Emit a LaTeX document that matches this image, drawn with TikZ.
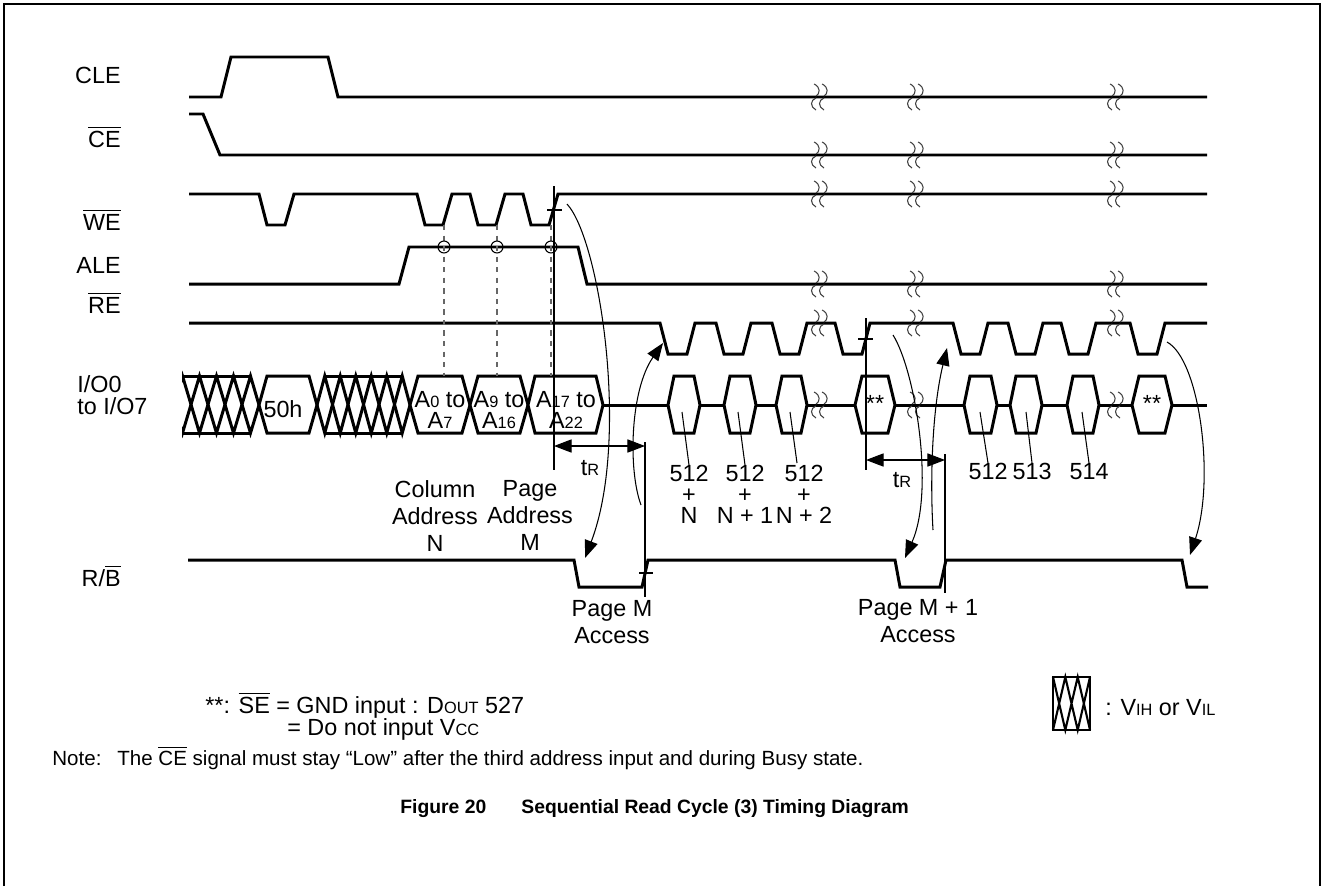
\documentclass[tikz,border=0pt]{standalone}
\usepackage{fontspec}
\setmainfont{Liberation Sans}
\usepackage{amsmath}
\usetikzlibrary{arrows.meta}

\newcommand\ovl[1]{$\overline{\mbox{#1}}$}
\newcommand\lo[1]{{\fontsize{9.3}{9.3}\selectfont #1}}
\newcommand\hexbox[3]{\draw[sig, fill=white] (#1,405) -- (#1+#3,376) -- (#2-#3,376) -- (#2,405) -- (#2-#3,433) -- (#1+#3,433) -- cycle;}
\newcommand\xhatch[3]{%
  \pgfmathsetmacro\hatchd{(#2-#1)/#3}
  \draw[sig] (#1+\hatchd/2,376) -- (#2-\hatchd/2,376) (#1+\hatchd/2,433) -- (#2-\hatchd/2,433);
  \draw[sig] (#1,405) foreach \k in {1,...,#3} { -- ({#1+(\k-0.5)*\hatchd},{376+57*mod(\k+1,2)}) } -- (#2,405);
  \draw[sig] (#1,405) foreach \k in {1,...,#3} { -- ({#1+(\k-0.5)*\hatchd},{433-57*mod(\k+1,2)}) } -- (#2,405);}
\newcommand\wavebrk[2]{%
  \foreach \a in {#1-4,#1+4} {
    \draw[brkln] (\a-1,#2-13) .. controls (\a+6,#2-10) and (\a+5,#2-3) .. (\a+1,#2-1);
    \draw[brkln] (\a+1,#2+1) .. controls (\a-5,#2+3) and (\a-5,#2+10) .. (\a+1,#2+13);}}

\begin{document}
\begin{tikzpicture}[x=0.02cm, y=-0.02cm, font=\fontsize{13.3}{15.3}\selectfont,
    sig/.style={line width=1.7pt},
    fine/.style={line width=0.6pt},
    brkln/.style={line width=0.6pt, black!75},
    tip/.style={-{Triangle[length=10pt,width=7.5pt]}},
    tips/.style={{Triangle[length=10pt,width=7.5pt]}-{Triangle[length=10pt,width=7.5pt]}},
    lbl/.style={anchor=base east, inner sep=0pt},
    txt/.style={anchor=base west, inner sep=0pt},
    stack/.style={align=center, anchor=north, inner sep=0pt, font=\fontsize{13.3}{11.9}\selectfont},
    addr/.style={align=center, anchor=north, inner sep=0pt},
    inbox/.style={align=center, inner sep=0pt, font=\fontsize{13.3}{11.9}\selectfont}]
    \useasboundingbox (0,0) rectangle (1324,886);
    \draw[line width=1pt] (4,886) -- (4,4) -- (1320,4) -- (1320,886);

    \node[lbl] (cle) at (121,83) {CLE};
    \node[lbl] (ce) at (121,147) {\ovl{CE}};
    \node[lbl] (we) at (121,230) {\ovl{WE}};
    \node[lbl] (ale) at (121,273) {ALE};
    \node[lbl] (re) at (121,313) {\ovl{RE}};
    \node[txt] (io) at (77,392) {I/O0};
    \node[txt] (io7) at (77,414) {to I/O7};
    \node[lbl] (rb) at (121,586) {R/\ovl{B}};

    \draw[sig] (189,97) -- (221,97) -- (231,57) -- (328,57) -- (338,97) -- (1207,97);
    \draw[sig] (189,114) -- (203,114) -- (220,155) -- (1207,155);
    \draw[sig] (189,194) foreach \p in {259,417,470,523} { -- (\p,194) -- (\p+8,225) -- (\p+26,225) -- (\p+35,194)} -- (1207,194);
    \draw[sig] (189,284) -- (399,284) -- (409,247) -- (578,247) -- (587,284) -- (1207,284);
    \draw[sig] (189,323) foreach \p in {660,716,772,835,953,1008,1061,1130} { -- (\p,323) -- (\p+8,354) -- (\p+27,354) -- (\p+35,323)} -- (1207,323);
    \draw[sig] (188,560) -- (574,560) -- (579,587) -- (642,587) -- (648,560) -- (895,560) -- (900,587) -- (940,587) -- (946,560) -- (1182,560) -- (1187,587) -- (1208,587);

    \begin{scope}
        \clip (182,360) rectangle (265,450);
        \xhatch{174}{259}{5}
    \end{scope}
    \hexbox{259}{317}{8}
    \xhatch{317}{410}{6}
    \hexbox{410}{470}{8}
    \hexbox{470}{528}{8}
    \hexbox{528}{603}{7}
    \draw[sig] (603,405) -- (1207,405);
    \foreach \a/\b/\s in {668/700/6, 724/756/6, 776/807/6, 855/895/7, 964/997/6, 1010/1042/6, 1067/1099/6, 1132/1172/7} {\hexbox{\a}{\b}{\s}}
    \node (cmd) at (283,409) {50h};
    \node[inbox] (col) at (440,410) {A\lo{0} to\\A\lo{7}};
    \node[inbox] (pg1) at (499,410) {A\lo{9} to\\A\lo{16}};
    \node[inbox] (pg2) at (566,410) {A\lo{17} to\\A\lo{22}};
    \node[anchor=base] (se1) at (875,411) {**};
    \node[anchor=base] (se2) at (1152,411) {**};

    \foreach \y in {97,155,194,284,323,405} {\foreach \x in {819,915,1115} {\wavebrk{\x}{\y}}}

    \foreach \x in {444,497,551} {
        \draw[fine, dashed, black!60] (\x,225) -- (\x,376);
        \draw[fine] (\x,247) circle[radius=3.4pt];}

    \coordinate (v1) at (554,186);
    \coordinate (v2) at (554,470);
    \coordinate (v3) at (645,442);
    \coordinate (v4) at (645,597);
    \coordinate (v5) at (866,318);
    \coordinate (v6) at (866,470);
    \coordinate (v7) at (945,454);
    \coordinate (v8) at (945,593);
    \draw[fine] (v1) -- (v2);
    \draw[fine] (v3) -- (v4);
    \draw[fine] (v5) -- (v6);
    \draw[fine] (v7) -- (v8);
    \draw[fine] (547,210) -- (562,210);
    \draw[fine] (639,573) -- (653,573);
    \draw[fine] (858,339) -- (873,339);
    \draw[fine, tips] (v1 |- 0,446) -- (v3 |- 0,446);
    \draw[fine, tips] (v5 |- 0,460) -- (v7 |- 0,460);
    \node (tr1) at (590,468) {t\lo{R}};
    \node (tr2) at (902,480) {t\lo{R}};

    \draw[fine, tip] (567,204) .. controls (600,240) and (630,440) .. (585,558);
    \draw[fine, tip] (641,505) .. controls (628,470) and (630,390) .. (663,343);
    \draw[fine, tip] (893,335) .. controls (915,370) and (935,490) .. (905,558);
    \draw[fine, tip] (933,530) .. controls (930,480) and (932,410) .. (947,348);
    \draw[fine, tip] (1167,342) .. controls (1200,360) and (1215,480) .. (1190,555);

    \node[stack] (d1) at (689,465) {512\\+\\N};
    \node[stack] (d2) at (745,465) {512\\+\\N + 1};
    \node[stack] (d3) at (804,465) {512\\+\\N + 2};
    \node[stack] (d5) at (988,463) {512};
    \node[stack] (d6) at (1032,463) {513};
    \node[stack] (d7) at (1089,463) {514};
    \coordinate (q3) at (797,463);
    \draw[fine] (682,412) -- (d1.north);
    \draw[fine] (738,412) -- (d2.north);
    \draw[fine] (790,412) -- (q3);
    \draw[fine] (980,412) -- (d5.north);
    \draw[fine] (1026,412) -- (d6.north);
    \draw[fine] (1082,412) -- (d7.north);

    \node[addr] (coladdr) at (435,480) {Column\\Address\\N};
    \node[addr] (pgaddr) at (530,480) {Page\\Address\\M};
    \node[addr] (accm) at (612,600) {Page M\\Access};
    \node[addr] (accm1) at (918,599) {Page M + 1\\Access};

    \node[txt] (sen) at (205,713) {**: \ovl{SE} = GND input : D\lo{OUT} 527};
    \node[txt] (vcc) at (287,735) {= Do not input V\lo{CC}};
    \node[txt, font=\fontsize{11.7}{14}\selectfont] (note) at (52,765) {Note:\hspace{9pt}The \ovl{CE} signal must stay “Low” after the third address input and during Busy state.};

    \draw[line width=1.2pt] (1053,677) rectangle (1090,730);
    \draw[line width=1.2pt] (1053,677) -- (1065.3,730) -- (1077.7,677) -- (1090,730) (1053,730) -- (1065.3,677) -- (1077.7,730) -- (1090,677);
    \node[txt] (lgd) at (1105,715) {: V\lo{IH} or V\lo{IL}};

    \node[txt, font=\fontsize{11}{13}\selectfont\bfseries] (title) at (400,813) {Figure 20\hspace{20pt}Sequential Read Cycle (3) Timing Diagram};
\end{tikzpicture}
\end{document}
